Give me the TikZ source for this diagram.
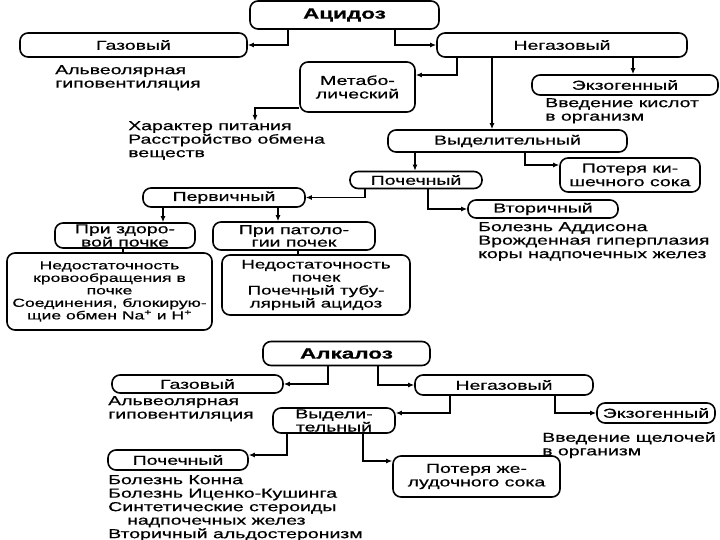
\documentclass[tikz,border=0pt]{standalone}
\usepackage{fontspec}
\setmainfont{Liberation Sans}[FakeStretch=1.5, FakeBold=0.6]
\usetikzlibrary{arrows.meta}
\newcommand{\fnorm}{\fontsize{13}{13.5}\selectfont}
\newcommand{\fsmall}{\fontsize{11.7}{12.5}\selectfont}
\newcommand{\ftitle}{\fontsize{15}{15}\selectfont\bfseries}
\begin{document}
\begin{tikzpicture}[x=1pt,y=-1pt,
  box/.style={draw, line width=1.6pt, rounded corners=8pt, inner sep=0pt, align=center, font=\fnorm},
  txt/.style={anchor=north west, inner sep=0pt, align=left, font=\fnorm},
  arr/.style={-{Latex[length=6pt,width=5pt]}, line width=1.3pt},
  ln/.style={line width=1.3pt}]
\useasboundingbox (0,0) rectangle (720,540);

% ---------- Acidosis ----------
\node[box, minimum width=189pt, minimum height=28pt, font=\ftitle] (acid) at (344.5,15) {Ацидоз};
\node[box, minimum width=227pt, minimum height=24pt] (gaz) at (133.5,45) {Газовый};
\node[box, minimum width=250pt, minimum height=24pt] (neg) at (562,45) {Негазовый};
\node[box, minimum width=115pt, minimum height=50pt] (met) at (357.5,87) {Метабо-\\лический};
\node[box, minimum width=186pt, minimum height=20pt] (ekz) at (625,85) {Экзогенный};
\node[box, minimum width=239pt, minimum height=22pt] (vyd) at (507.5,141) {Выделительный};
\node[box, minimum width=140pt, minimum height=34pt] (pot) at (630,175) {Потеря ки-\\шечного сока};
\node[box, minimum width=132pt, minimum height=17pt] (poch) at (416,180) {Почечный};
\node[box, minimum width=162pt, minimum height=19pt] (perv) at (224,197.5) {Первичный};
\node[box, minimum width=150pt, minimum height=18pt] (vtor) at (543,209) {Вторичный};
\node[box, minimum width=140pt, minimum height=25pt, font=\fontsize{13}{12}\selectfont] (zdor) at (125,235.5) {При здоро-\\вой почке};
\node[box, minimum width=162pt, minimum height=28pt, font=\fontsize{13}{12.5}\selectfont] (pat) at (294,236) {При патоло-\\гии почек};
\node[box, minimum width=205pt, minimum height=77pt, font=\fsmall] (nedk) at (109.5,291.5)
  {Недостаточность\\кровообращения в\\почке\\Соединения, блокирую-\\щие обмен Na\textsuperscript{+} и H\textsuperscript{+}};
\node[box, minimum width=188pt, minimum height=60pt, font=\fontsize{12.5}{13}\selectfont] (nedp) at (316,285)
  {Недостаточность\\почек\\Почечный тубу-\\лярный ацидоз};

\node[txt] (t1) at (55,65) {Альвеолярная\\гиповентиляция};
\node[txt] (t2) at (128,121) {Характер питания\\Расстройство обмена\\веществ};
\node[txt] (t3) at (545,98) {Введение кислот\\в организм};
\node[txt] (t4) at (478,222) {Болезнь Аддисона\\Врожденная гиперплазия\\коры надпочечных желез};

\coordinate (metend) at (255,121);

\draw[arr] (acid.south -| 288,0) |- (gaz.east);
\draw[arr] (acid.south -| 395,0) |- (neg.west);
\draw[arr] (neg.south -| 457,0) |- (met.east |- 0,75);
\draw[arr] (met.west |- 0,108) -| (metend);
\draw[arr] (neg.south -| 633,0) -- (ekz.north -| 633,0);
\draw[arr] (neg.south -| 492,0) -- (vyd.north -| 492,0);
\draw[arr] (vyd.south -| 525,0) |- (pot.west |- 0,165);
\draw[arr] (vyd.south -| 415,0) -- (poch.north -| 415,0);
\draw[arr] (poch.south -| 365,0) |- (perv.east);
\draw[arr] (poch.south -| 428,0) |- (vtor.west);
\draw[arr] (perv.south -| 163,0) -- (zdor.north -| 163,0);
\draw[arr] (perv.south -| 278,0) -- (pat.north -| 278,0);
\draw[ln] (zdor.south -| 123,0) -- (nedk.north -| 123,0);
\draw[ln] (pat.south -| 298,0) -- (nedp.north -| 298,0);

% ---------- Alkalosis ----------
\node[box, minimum width=167pt, minimum height=24pt, font=\ftitle] (alk) at (346.5,353.5) {Алкалоз};
\node[box, minimum width=171pt, minimum height=18pt] (gaz2) at (197.5,384) {Газовый};
\node[box, minimum width=178pt, minimum height=20pt] (neg2) at (504,385) {Негазовый};
\node[box, minimum width=122pt, minimum height=25pt, font=\fontsize{13}{12}\selectfont] (vyd2) at (334,420.5) {Выдели-\\тельный};
\node[box, minimum width=118pt, minimum height=20pt] (ekz2) at (656,413) {Экзогенный};
\node[box, minimum width=140pt, minimum height=20pt] (poch2) at (178,460) {Почечный};
\node[box, minimum width=167pt, minimum height=41pt] (pot2) at (476.5,476.5) {Потеря же-\\лудочного сока};

\node[txt] (t5) at (108,396) {Альвеолярная\\гиповентиляция};
\node[txt] (t6) at (542,432) {Введение щелочей\\в организм};
\node[txt] (t7) at (108,475) {Болезнь Конна\\Болезнь Иценко-Кушинга\\Синтетические стероиды\\\hspace*{19pt}надпочечных желез\\Вторичный альдостеронизм};

\draw[arr] (alk.south -| 328,0) |- (gaz2.east);
\draw[arr] (alk.south -| 378,0) |- (neg2.west);
\draw[arr] (neg2.south -| 450,0) |- (vyd2.east |- 0,413);
\draw[arr] (neg2.south -| 555,0) |- (ekz2.west);
\draw[arr] (vyd2.south -| 287,0) |- (poch2.east |- 0,455);
\draw[arr] (vyd2.south -| 363,0) |- (pot2.west |- 0,461);
\end{tikzpicture}
\end{document}
